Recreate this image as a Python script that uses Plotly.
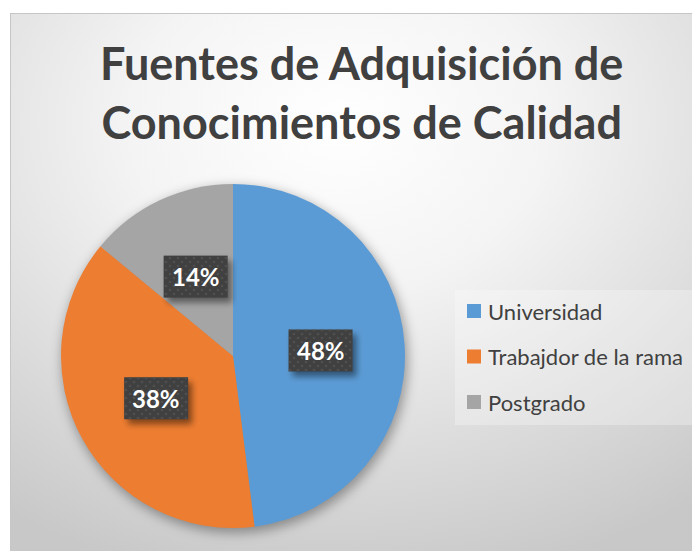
import base64
import math
import plotly.graph_objects as go

# ---- data ----
categories = ["Universidad", "Trabajdor de la rama", "Postgrado"]
values = [48, 38, 14]
colors = ["#5b9bd5", "#ed7d31", "#a5a5a5"]
title_lines = ["Fuentes de Adquisición de", "Conocimientos de Calidad"]

# ---- layout geometry (page pixels; the page body adds an 8px offset) ----
W, H = 700, 551
OFF = 8
CX, CY, R = 233, 356, 172          # pie centre / radius
LABEL_R = 0.51                     # label distance as fraction of radius
BOX_W, BOX_H = 64, 42              # data-label box
LEG_X0, LEG_X1, LEG_Y0, LEG_Y1 = 455, 697, 290, 425
LEG_ROW0, LEG_ROW_STEP = 311, 45.5
FONT = "Lato"
TXT = "#404040"


def fx(x):  # page px -> figure px
    return x - OFF


def px(x):
    return fx(x) / W


def py(y):
    return 1 - fx(y) / H


# label positions derived from the values
total = sum(values)
label_pos = []
cum = 0
for v in values:
    mid = (cum + v / 2) / total * 2 * math.pi
    lx = CX + LABEL_R * R * math.sin(mid)
    ly = CY - LABEL_R * R * math.cos(mid)
    label_pos.append((lx, ly))
    cum += v

# ---- background SVG (gradient + pie shadow), figure px ----
bg_svg = f'''<svg xmlns="http://www.w3.org/2000/svg" width="{W}" height="{H}" viewBox="0 0 {W} {H}">
<defs>
<radialGradient id="g" cx="0.47" cy="0.2" r="0.85" gradientUnits="objectBoundingBox">
<stop offset="0" stop-color="#ffffff"/>
<stop offset="0.35" stop-color="#f4f4f4"/>
<stop offset="1" stop-color="#c8c8c8"/>
</radialGradient>
<filter id="b" x="-20%" y="-20%" width="140%" height="140%"><feGaussianBlur stdDeviation="6"/></filter>
</defs>
<rect x="{fx(10)}" y="{fx(13)}" width="{W}" height="{H}" fill="url(#g)"/>
<rect x="{fx(10)+0.5}" y="{fx(13)+0.5}" width="{W}" height="{H}" fill="none" stroke="#c6c6c6" stroke-width="1"/>
<circle cx="{fx(CX)+2}" cy="{fx(CY)+4}" r="{R+1}" fill="#000" fill-opacity="0.35" filter="url(#b)"/>
</svg>'''

# ---- overlay SVG (data-label boxes with shadow and dot texture) ----
boxes = []
for (lx, ly) in label_pos:
    x0, y0 = fx(lx) - BOX_W / 2, fx(ly) - BOX_H / 2
    boxes.append(f'<rect x="{x0+4}" y="{y0+5}" width="{BOX_W}" height="{BOX_H}" fill="#000" fill-opacity="0.45" filter="url(#s)"/>')
    boxes.append(f'<rect x="{x0}" y="{y0}" width="{BOX_W}" height="{BOX_H}" fill="#404040"/>')
    boxes.append(f'<rect x="{x0}" y="{y0}" width="{BOX_W}" height="{BOX_H}" fill="url(#p)"/>')
ov_svg = f'''<svg xmlns="http://www.w3.org/2000/svg" width="{W}" height="{H}" viewBox="0 0 {W} {H}">
<defs>
<filter id="s" x="-30%" y="-30%" width="160%" height="160%"><feGaussianBlur stdDeviation="3"/></filter>
<pattern id="p" width="8" height="8" patternUnits="userSpaceOnUse">
<circle cx="2" cy="2" r="1.3" fill="#4f4f4f"/><circle cx="6" cy="6" r="1.3" fill="#4f4f4f"/>
</pattern>
</defs>
{''.join(boxes)}
</svg>'''


def uri(svg):
    return "data:image/svg+xml;base64," + base64.b64encode(svg.encode()).decode()


fig = go.Figure(
    go.Pie(
        labels=categories,
        values=values,
        sort=False,
        direction="clockwise",
        rotation=0,
        marker=dict(colors=colors, line=dict(width=0)),
        textinfo="none",
        hoverinfo="label+percent",
        showlegend=False,
        domain=dict(x=[px(CX - R), px(CX + R)], y=[py(CY + R), py(CY - R)]),
    )
)

annotations = []
# data labels
for (lx, ly), v in zip(label_pos, values):
    annotations.append(dict(
        x=px(lx), y=py(ly), xref="paper", yref="paper",
        text=f"<b>{round(v / total * 100)}%</b>", showarrow=False,
        font=dict(family=FONT, size=24, color="#ffffff"),
        xanchor="center", yanchor="middle",
    ))
# title
annotations.append(dict(
    x=px(361), y=py(92), xref="paper", yref="paper",
    text="<b>" + "<br>".join(title_lines) + "</b>", showarrow=False,
    font=dict(family=FONT, size=45, color=TXT),
    xanchor="center", yanchor="middle", align="center",
))

shapes = [dict(type="rect", xref="paper", yref="paper",
               x0=px(LEG_X0), x1=px(LEG_X1), y0=py(LEG_Y1), y1=py(LEG_Y0),
               fillcolor="rgba(255,255,255,0.28)", line=dict(width=0), layer="above")]
for i, (cat, col) in enumerate(zip(categories, colors)):
    yc = LEG_ROW0 + i * LEG_ROW_STEP
    shapes.append(dict(type="rect", xref="paper", yref="paper",
                       x0=px(467), x1=px(481), y0=py(yc + 7), y1=py(yc - 7),
                       fillcolor=col, line=dict(width=0), layer="above"))
    annotations.append(dict(
        x=px(486), y=py(yc), xref="paper", yref="paper", text=cat,
        showarrow=False, xanchor="left", yanchor="middle",
        font=dict(family=FONT, size=22, color=TXT),
    ))

fig.update_layout(
    width=W, height=H,
    margin=dict(l=0, r=0, t=0, b=0),
    paper_bgcolor="#ffffff",
    plot_bgcolor="rgba(0,0,0,0)",
    images=[
        dict(source=uri(bg_svg), xref="paper", yref="paper", x=0, y=1,
             sizex=1, sizey=1, xanchor="left", yanchor="top",
             sizing="stretch", layer="below"),
        dict(source=uri(ov_svg), xref="paper", yref="paper", x=0, y=1,
             sizex=1, sizey=1, xanchor="left", yanchor="top",
             sizing="stretch", layer="above"),
    ],
    annotations=annotations,
    shapes=shapes,
)

fig.write_html("out.html")
